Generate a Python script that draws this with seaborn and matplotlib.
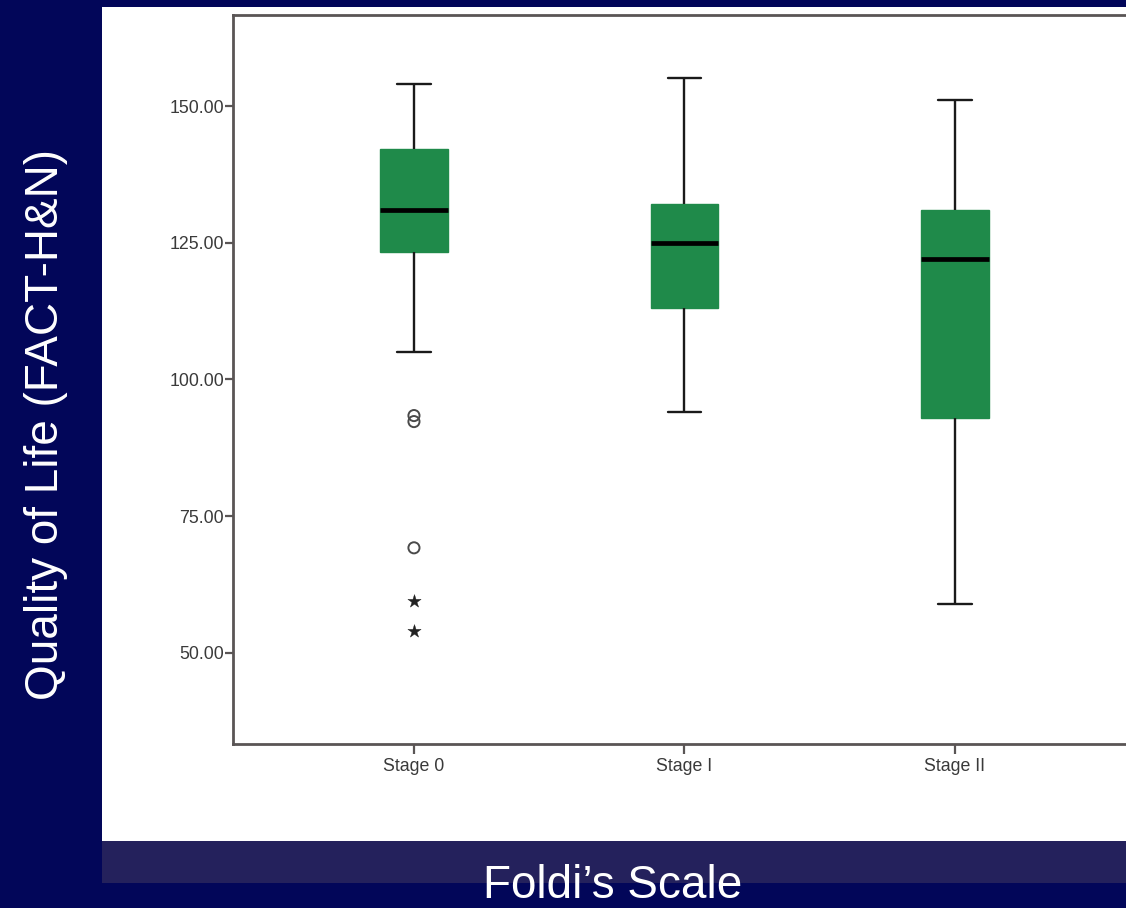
import numpy as np
import pandas as pd
import matplotlib
matplotlib.use("Agg")
import matplotlib.pyplot as plt
from matplotlib.patches import Rectangle
import seaborn as sns

# ---- data ----
stages = ["Stage 0", "Stage I", "Stage II"]
whisker_low = [105.0, 94.0, 59.0]
q1 = [123.4, 113.0, 93.0]
median = [131.0, 125.0, 122.0]
q3 = [142.1, 132.1, 131.0]
whisker_high = [154.0, 155.1, 151.1]
outlier_stage = ["Stage 0", "Stage 0", "Stage 0"]
outlier_vals = [93.4, 92.3, 69.2]
extreme_stage = ["Stage 0", "Stage 0"]
extreme_vals = [59.5, 54.0]
yticks = [50, 75, 100, 125, 150]
ytick_labels = ["50.00", "75.00", "100.00", "125.00", "150.00"]

# five-number summaries as data points (linear percentiles reproduce them exactly)
rows = []
for s, a, b, c, d, e in zip(stages, whisker_low, q1, median, q3, whisker_high):
    for v in (a, b, c, d, e):
        rows.append({"stage": s, "value": v})
df = pd.DataFrame(rows)
df_out = pd.DataFrame({"stage": outlier_stage, "value": outlier_vals})
df_ext = pd.DataFrame({"stage": extreme_stage, "value": extreme_vals})

sns.set_style("white")
plt.rcParams["font.family"] = ["Liberation Sans", "DejaVu Sans"]

W, H = 1126, 908
fig = plt.figure(figsize=(W / 100, H / 100), dpi=100)
navy = "#020659"
fig.patch.set_facecolor(navy)

# white slide panel and band
fig.patches.append(Rectangle((102 / W, 1 - 841 / H), 1 - 102 / W, (841 - 7) / H,
                             transform=fig.transFigure, facecolor="white",
                             edgecolor="none", zorder=-10))
fig.patches.append(Rectangle((102 / W, 1 - 883 / H), 1 - 102 / W, (883 - 841) / H,
                             transform=fig.transFigure, facecolor="#24215C",
                             edgecolor="none", zorder=-10))

left = 233 / W
bottom = 1 - 744 / H
top = 1 - 15 / H
px_per_cat = 270.5
xmin, xmax = -0.669, 3.669
width_frac = (xmax - xmin) * px_per_cat / W
ax = fig.add_axes([left, bottom, width_frac, top - bottom])
ax.set_facecolor("white")
ax.set_zorder(1)

green = "#1F8A4A"
sns.boxplot(data=df, x="stage", y="value", order=stages, ax=ax,
            color=green, saturation=1, width=0.25, whis=(0, 100),
            showfliers=False, linecolor="#1a1a1a", linewidth=1.7,
            boxprops=dict(edgecolor=green, linewidth=1.0),
            medianprops=dict(color="black", linewidth=3.4),
            whiskerprops=dict(color="#1a1a1a", linewidth=1.7),
            capprops=dict(color="#1a1a1a", linewidth=1.7))

sns.stripplot(data=df_out, x="stage", y="value", order=stages, ax=ax,
              jitter=False, marker="o", size=8, facecolor="none",
              edgecolor="#4a4a4a", linewidth=1.4, zorder=4)
sns.stripplot(data=df_ext, x="stage", y="value", order=stages, ax=ax,
              jitter=False, marker="*", size=10, color="#222222",
              edgecolor="#222222", linewidth=0.3, zorder=4)

ax.set_xlim(xmin, xmax)
ax.set_ylim(33.3, 166.7)
ax.set_yticks(yticks)
ax.set_yticklabels(ytick_labels)
ax.set_xlabel("")
ax.set_ylabel("")

for sp in ax.spines.values():
    sp.set_color("#5a5555")
    sp.set_linewidth(2.0)
    sp.set_visible(True)

ax.tick_params(axis="y", direction="out", length=6, width=1.6, color="#5a5555",
               pad=0.5, labelsize=12.8, labelcolor="#3a3a3a", left=True)
ax.tick_params(axis="x", direction="out", length=7, width=1.6, color="#5a5555",
               pad=3, labelsize=12.8, labelcolor="#3a3a3a", bottom=True)

fig.text(46 / W, 1 - 425 / H, "Quality of Life (FACT-H&N)", rotation=90,
         color="white", fontsize=33, ha="center", va="center")
fig.text(613 / W, 1 - 898 / H, "Foldi’s Scale", color="white", fontsize=33,
         ha="center", va="baseline")

fig.savefig("out.png", dpi=100, facecolor=fig.get_facecolor())
